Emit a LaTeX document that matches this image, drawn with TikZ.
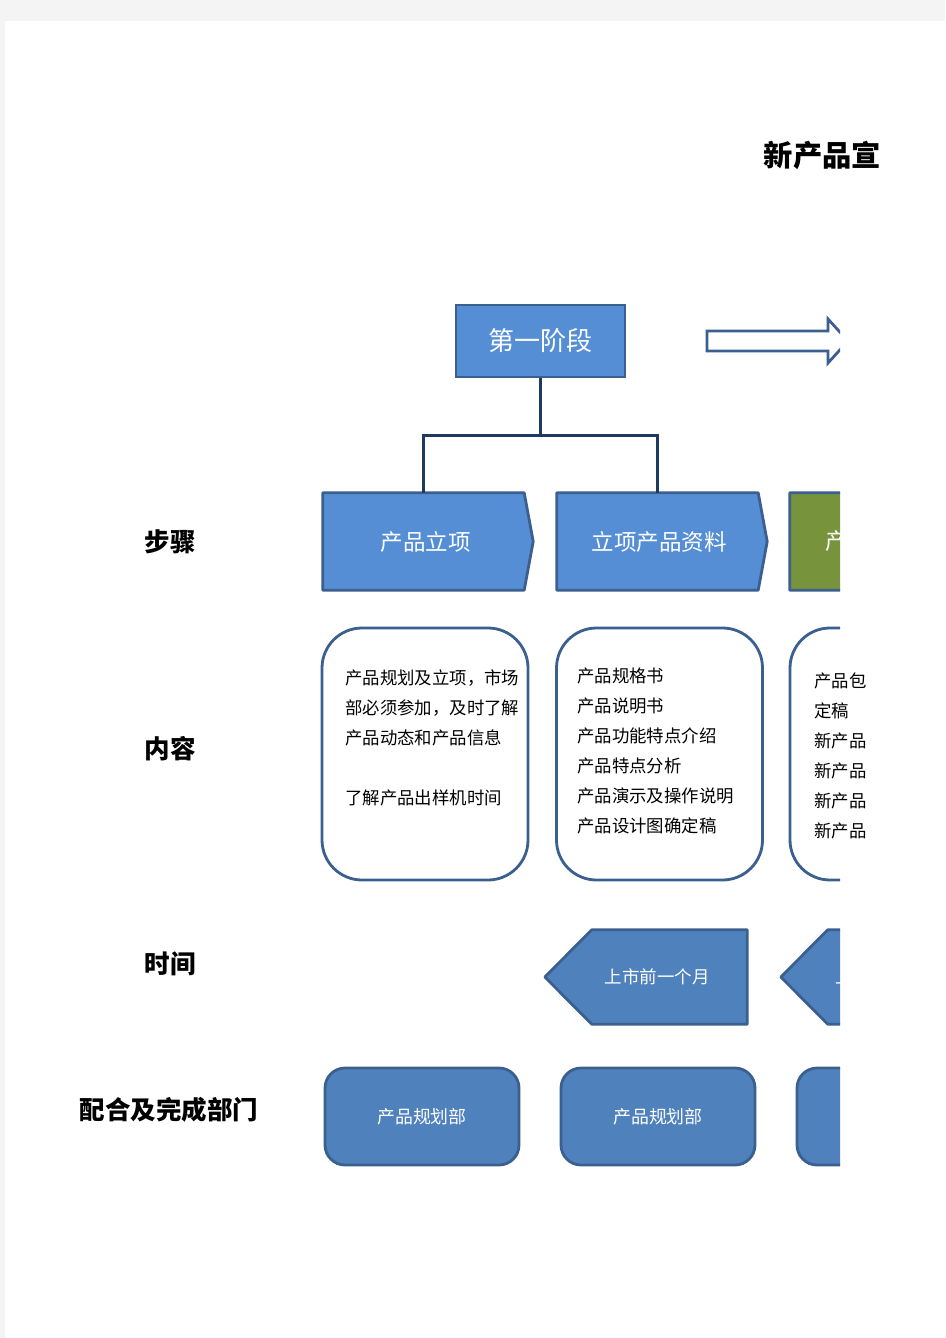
\documentclass[tikz,border=0pt]{standalone}
\usepackage{fontspec}
\setmainfont{Noto Sans CJK SC}
\usetikzlibrary{calc}
\definecolor{pagegray}{HTML}{F4F4F4}
\definecolor{stepblue}{HTML}{558ED5}
\definecolor{midblue}{HTML}{4F81BD}
\definecolor{edgeblue}{HTML}{3B5F8F}
\definecolor{navy}{HTML}{1F3A60}
\definecolor{olive}{HTML}{77933C}
\tikzset{
  x=1pt, y=-1pt,
  rowlabel/.style={font=\fontsize{25.5}{30}\selectfont\bfseries, text=black, inner sep=0pt},
  stagebox/.style={draw=edgeblue, line width=2.8pt, fill=stepblue, text=white,
     font=\fontsize{26}{30}\selectfont, minimum width=169pt, minimum height=72pt, inner sep=0pt},
  stepbody/.style={draw=none, minimum width=201pt, minimum height=97pt, inner sep=0pt},
  steptext/.style={text=white, font=\fontsize{22.5}{26}\selectfont, inner sep=0pt},
  stepshape/.style={draw=edgeblue, line width=2.8pt, line join=round, fill=stepblue},
  contentbox/.style={draw=edgeblue, line width=2.8pt, fill=white, rounded corners=40pt,
     minimum width=206pt, minimum height=252pt, inner sep=0pt},
  contenttext/.style={font=\fontsize{17.4}{30}\selectfont, text=black, align=left,
     anchor=north west, inner sep=0pt},
  timebody/.style={draw=none, minimum width=155pt, minimum height=94pt, inner sep=0pt},
  timeshape/.style={draw=edgeblue, line width=2.8pt, line join=round, fill=midblue},
  timetext/.style={text=white, font=\fontsize{17.5}{20}\selectfont, inner sep=0pt},
  deptbox/.style={draw=edgeblue, line width=2.8pt, fill=midblue, rounded corners=20pt,
     minimum width=194pt, minimum height=97pt, inner sep=0pt, text=white,
     font=\fontsize{17.9}{20}\selectfont},
  conn/.style={draw=navy, line width=2.8pt},
}
\begin{document}
\begin{tikzpicture}
\useasboundingbox (0,0) rectangle (945,1338);
\fill[pagegray] (0,0) rectangle (945,1338);
\fill[white] (5,21) rectangle (945,1338);

% title and row labels
\node[rowlabel, font=\fontsize{29.3}{32}\selectfont\bfseries] (title) at (822.5,155) {新产品宣};
\node[rowlabel] (lstep) at (170,542) {步骤};
\node[rowlabel] (lcont) at (170,749) {内容};
\node[rowlabel] (ltime) at (170,964) {时间};
\node[rowlabel] (ldept) at (169,1110) {配合及完成部门};

\begin{scope}
\clip (0,0) rectangle (840,1338);

% stage box
\node[stagebox] (st) at (540.5,341) {第一阶段};

% hollow arrow
\draw[edgeblue, line width=2.8pt, line join=miter, fill=white]
  (707,331) -- (828,331) -- (828,319) -- (848,341) -- (828,363) -- (828,351) -- (707,351) -- cycle;

% steps
\node[stepbody] (s1) at (423.5,541.5) {};
\node[stepbody] (s2) at (657.5,541.5) {};
\node[stepbody] (s3) at (890.5,541.5) {};
\draw[stepshape] (s1.north west) -- (s1.north east) -- ($(s1.east)+(9,0)$) -- (s1.south east) -- (s1.south west) -- cycle;
\draw[stepshape] (s2.north west) -- (s2.north east) -- ($(s2.east)+(9,0)$) -- (s2.south east) -- (s2.south west) -- cycle;
\draw[stepshape, fill=olive] (s3.north west) -- (s3.north east) -- ($(s3.east)+(9,0)$) -- (s3.south east) -- (s3.south west) -- cycle;
\node[steptext] (s1l) at (425.5,541.5) {产品立项};
\node[steptext] (s2l) at (659,541.5) {立项产品资料};
\node[steptext, anchor=west] (s3l) at (825,541.5) {产};

% connectors
\draw[conn] (st.south) -- ++(0,57) coordinate (j);
\draw[conn] (s1.north) |- (j) -| (s2.north);

% content boxes
\node[contentbox] (c1) at (425,754) {};
\node[contentbox] (c2) at (659.5,754) {};
\node[contentbox] (c3) at (893,754) {};

% time arrows
\node[timebody] (t1) at (669.5,977) {};
\node[timebody] (t2) at (905.5,977) {};
\draw[timeshape] (t1.north west) -- (t1.north east) -- (t1.south east) -- (t1.south west) -- ($(t1.west)+(-47,0)$) -- cycle;
\draw[timeshape] (t2.north west) -- (t2.north east) -- (t2.south east) -- (t2.south west) -- ($(t2.west)+(-47,0)$) -- cycle;
\node[timetext] (t1l) at (657,977) {上市前一个月};
\node[timetext, anchor=west] (t2l) at (835,977) {上市前一个月};

% departments
\node[deptbox] (d1) at (422,1116.5) {产品规划部};
\node[deptbox] (d2) at (658,1116.5) {产品规划部};
\node[deptbox] (d3) at (894,1116.5) {};
\end{scope}

% content texts
\node[contenttext] (c1t) at (345,670) {产品规划及立项，市场\\部必须参加，及时了解\\产品动态和产品信息\\[30pt]了解产品出样机时间};
\node[contenttext] (c2t) at (577,668) {产品规格书\\产品说明书\\产品功能特点介绍\\产品特点分析\\产品演示及操作说明\\产品设计图确定稿};
\node[contenttext] (c3t) at (814,673) {产品包\\定稿\\新产品\\新产品\\新产品\\新产品};
\end{tikzpicture}
\end{document}
